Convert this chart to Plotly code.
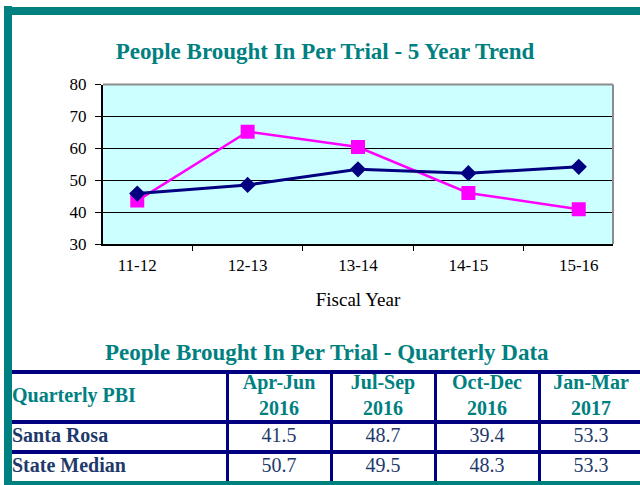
import plotly.graph_objects as go

# 5 year trend
years = ["11-12", "12-13", "13-14", "14-15", "15-16"]
santa_rosa = [43.6, 65.2, 60.4, 46.0, 40.9]
state_median = [45.8, 48.5, 53.4, 52.2, 54.2]

# quarterly table
quarters = ["Apr-Jun<br>2016", "Jul-Sep<br>2016", "Oct-Dec<br>2016", "Jan-Mar<br>2017"]
row_labels = ["Santa Rosa", "State Median"]
santa_rosa_q = ["41.5", "48.7", "39.4", "53.3"]
state_median_q = ["50.7", "49.5", "48.3", "53.3"]

W, H = 640, 485
TEAL = "#008080"
NAVY = "#000080"
CELL_TXT = "#1F3A6A"
SERIF = "Liberation Serif, Times New Roman, serif"


def px(x):
    return x / W


def py(y):
    return 1 - y / H


# table grid in pixel units (x2 / y2 axes)
col_edges = [12, 227, 331, 435, 539, 643]
row_edges = [372, 422, 452, 482]
col_mid = [(a + b) / 2 for a, b in zip(col_edges[1:-1], col_edges[2:])]
row_mid = [(a + b) / 2 for a, b in zip(row_edges[:-1], row_edges[1:])]

fig = go.Figure()

fig.add_trace(go.Scatter(
    x=years, y=santa_rosa, name="Santa Rosa", mode="lines+markers",
    line=dict(color="#FF00FF", width=2.5),
    marker=dict(symbol="square", size=14, color="#FF00FF"),
))
fig.add_trace(go.Scatter(
    x=years, y=state_median, name="State Median", mode="lines+markers",
    line=dict(color=NAVY, width=3),
    marker=dict(symbol="diamond", size=12.5, color=NAVY),
))

# table text
fig.add_trace(go.Scatter(
    x=col_mid, y=[row_mid[0]] * len(quarters), mode="text", text=quarters,
    textfont=dict(family=SERIF, size=20, color=TEAL, weight="bold"),
    xaxis="x2", yaxis="y2",
))
fig.add_trace(go.Scatter(
    x=[col_edges[0]], y=[row_mid[0]], mode="text", text=["Quarterly PBI"],
    textposition="middle right",
    textfont=dict(family=SERIF, size=20, color=TEAL, weight="bold"),
    xaxis="x2", yaxis="y2",
))
fig.add_trace(go.Scatter(
    x=[col_edges[0]] * 2, y=row_mid[1:], mode="text", text=row_labels,
    textposition="middle right",
    textfont=dict(family=SERIF, size=20, color=CELL_TXT, weight="bold"),
    xaxis="x2", yaxis="y2",
))
for vals, ym in zip([santa_rosa_q, state_median_q], row_mid[1:]):
    fig.add_trace(go.Scatter(
        x=col_mid, y=[ym] * len(vals), mode="text", text=vals,
        textfont=dict(family=SERIF, size=20, color=CELL_TXT),
        xaxis="x2", yaxis="y2",
    ))

fig.update_layout(
    width=W, height=H,
    margin=dict(l=0, r=0, t=0, b=0, autoexpand=False),
    paper_bgcolor="white",
    plot_bgcolor="#CCFFFF",
    showlegend=False,
    font=dict(family=SERIF, size=17, color="black"),
    title=dict(
        text="<b>People Brought In Per Trial - 5 Year Trend</b>",
        x=px(325), xanchor="center", y=py(51), yanchor="middle",
        font=dict(family=SERIF, size=23, color=TEAL),
    ),
    xaxis=dict(
        domain=[px(103), px(613)], anchor="y", automargin=False,
        type="category", tickson="boundaries",
        ticks="outside", ticklen=5, tickcolor="black", tickwidth=1,
        showline=True, linecolor="black", linewidth=2,
        showgrid=False, ticklabelstandoff=5,
        title=dict(text="Fiscal Year", font=dict(size=19), standoff=18),
    ),
    yaxis=dict(
        domain=[py(244), py(84.5)], anchor="x", automargin=False,
        range=[30, 80], dtick=10,
        ticks="outside", ticklen=6, tickcolor="black", tickwidth=1,
        showline=True, linecolor="black", linewidth=2,
        showgrid=True, gridcolor="black", gridwidth=1,
        zeroline=False, ticklabelstandoff=5,
    ),
    xaxis2=dict(
        domain=[px(12), 1], anchor="y2", range=[12, 640], automargin=False,
        tickvals=col_edges[1:-1], showticklabels=False, ticks="",
        showgrid=True, gridcolor=NAVY, gridwidth=3,
        zeroline=False, showline=False,
    ),
    yaxis2=dict(
        domain=[0, py(370)], anchor="x2", range=[485, 370], automargin=False,
        tickvals=row_edges[:-1], showticklabels=False, ticks="",
        showgrid=True, gridcolor=NAVY, gridwidth=4,
        zeroline=False, showline=False,
    ),
)

# white background under the table
fig.add_shape(type="rect", xref="x2 domain", yref="y2 domain",
              x0=0, x1=1, y0=0, y1=1, fillcolor="white",
              line=dict(width=0), layer="below")

# table title
fig.add_annotation(
    text="<b>People Brought In Per Trial - Quarterly Data</b>",
    xref="paper", yref="paper", x=px(327), y=py(352),
    xanchor="center", yanchor="middle", showarrow=False,
    font=dict(family=SERIF, size=23, color=TEAL),
)

# grey plot border on top and right
fig.add_shape(type="line", xref="x domain", yref="y domain",
              x0=0, x1=1, y0=1, y1=1, line=dict(color="#8C8C8C", width=2))
fig.add_shape(type="line", xref="x domain", yref="y domain",
              x0=1, x1=1, y0=0, y1=1, line=dict(color="#8C8C8C", width=2))

# teal frame
for x0, x1, y0, y1 in [(4, 12, 6, 485), (4, 640, 7, 15), (4, 640, 481, 485)]:
    fig.add_shape(type="rect", xref="paper", yref="paper",
                  x0=px(x0), x1=px(x1), y0=py(y1), y1=py(y0),
                  line=dict(width=0), fillcolor=TEAL, layer="above")

fig.write_html(
    "out.html",
    config={"displayModeBar": False},
    post_script="document.body.style.margin = '0';",
)
